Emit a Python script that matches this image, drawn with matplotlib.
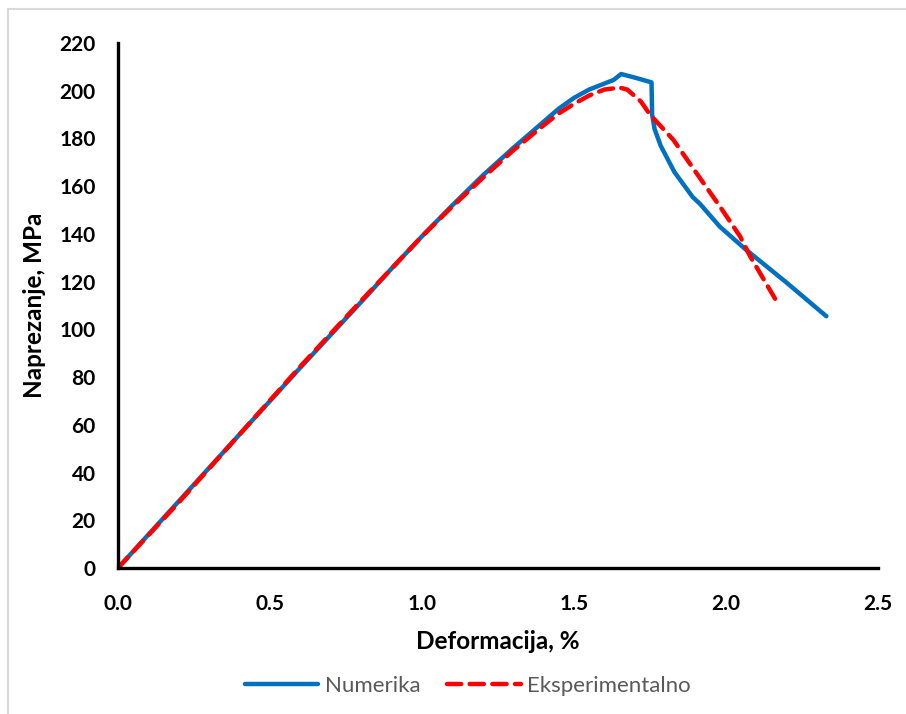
import matplotlib
matplotlib.use("Agg")
import matplotlib.pyplot as plt
from matplotlib.patches import Rectangle

# Numerika (blue solid)
num_x = [0.0, 0.2, 0.4, 0.6, 0.8, 0.9, 1.0, 1.1, 1.2, 1.3, 1.35, 1.4, 1.45,
         1.5, 1.55, 1.6, 1.63, 1.655, 1.70, 1.755, 1.757, 1.765, 1.785, 1.83,
         1.89, 1.915, 1.98, 2.06, 2.2, 2.33]
num_y = [0, 28, 56, 84, 111.5, 125.5, 139, 152, 164.5, 176, 181.5, 187,
         192.5, 197, 200.5, 203, 204.5, 207, 205.5, 203.5, 190, 184, 177, 166,
         155.5, 152.5, 143, 134, 119.5, 105.5]

# Eksperimentalno (red dashed)
exp_x = [0.0, 0.2, 0.4, 0.6, 0.8, 1.0, 1.1, 1.2, 1.3, 1.4, 1.45, 1.5, 1.55,
         1.6, 1.65, 1.675, 1.72, 1.75, 1.827, 1.90, 1.98, 2.046, 2.08, 2.17]
exp_y = [0, 27.5, 56, 84.5, 112, 139, 151.5, 163.5, 175, 185.5, 190.5, 194.5,
         198, 200.5, 201.3, 200.5, 195.5, 190, 179.4, 166, 151.5, 139, 130.5,
         111]

x_ticks = [0.0, 0.5, 1.0, 1.5, 2.0, 2.5]
y_ticks = list(range(0, 221, 20))

plt.rcParams['font.family'] = ['Lato', 'DejaVu Sans']

fig = plt.figure(figsize=(9.06, 7.14), dpi=100)
# light grey chart-area border (only top and left edges are visible)
fig.patches.append(Rectangle((8 / 906, -0.1), 1.2, 1.1 - 9 / 714,
                             transform=fig.transFigure, fill=False,
                             edgecolor='#D9D9D9', linewidth=1.5))
ax = fig.add_axes([118 / 906, 1 - 568 / 714, 760 / 906, 525 / 714])

ax.plot(num_x, num_y, color='#0070C0', linewidth=3.2, label='Numerika',
        solid_capstyle='round', solid_joinstyle='round')
ax.plot(exp_x, exp_y, color='#FF0000', linewidth=3.2, label='Eksperimentalno',
        linestyle=(0, (3.2, 1.9)), dash_capstyle='round')

ax.set_xlim(0, 2.5)
ax.set_ylim(0, 220)
ax.set_xticks(x_ticks)
ax.set_xticklabels([f'{t:.1f}' for t in x_ticks])
ax.set_yticks(y_ticks)

for s in ['top', 'right']:
    ax.spines[s].set_visible(False)
for s in ['left', 'bottom']:
    ax.spines[s].set_linewidth(2.4)
    ax.spines[s].set_color('black')

ax.tick_params(axis='both', length=0, labelsize=15)
ax.tick_params(axis='x', pad=19)
ax.tick_params(axis='y', pad=16)
for lbl in ax.get_xticklabels() + ax.get_yticklabels():
    lbl.set_fontweight('bold')

ax.set_xlabel('Deformacija, %', fontsize=17.5, fontweight='bold', labelpad=11)
ax.set_ylabel('Naprezanje, MPa', fontsize=17.5, fontweight='bold', labelpad=10)

fig.legend(loc='center', bbox_to_anchor=(468 / 906, 1 - 686 / 714), ncol=2,
           frameon=False, fontsize=16, handlelength=3.3, columnspacing=1.2,
           labelcolor='#595959', handletextpad=0.3)

fig.savefig('out.png', dpi=100)
